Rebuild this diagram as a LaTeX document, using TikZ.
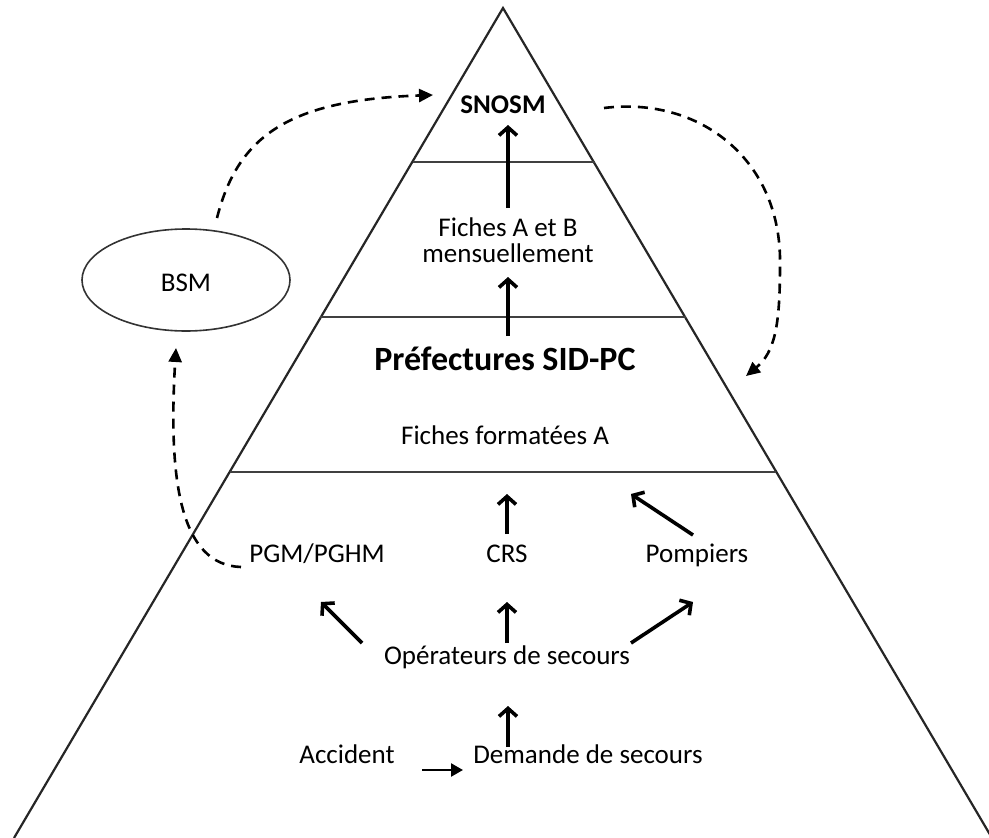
\documentclass[tikz,border=0pt]{standalone}
\usepackage{fontspec}
\setmainfont{Carlito}
\usetikzlibrary{arrows.meta}
\begin{document}
\begin{tikzpicture}[x=1pt,y=-1pt,
  txt/.style={inner sep=0pt, anchor=base, font=\fontsize{27}{32}\selectfont},
  btxt/.style={inner sep=0pt, anchor=base, font=\fontsize{27}{32}\selectfont\bfseries},
  bigtxt/.style={inner sep=0pt, anchor=base, font=\fontsize{34}{38}\selectfont\bfseries},
  edge/.style={line width=2.2pt, black!85},
  sep/.style={line width=2.2pt, black!75},
  solidarr/.style={line width=3.6pt, -{Straight Barb[length=8pt,width=18pt,line width=3.6pt]}},
  flatarr/.style={line width=2.4pt, -{Triangle[length=12pt,width=13pt]}},
  dasharr/.style={line width=2.6pt, dash pattern=on 10pt off 7pt, -{Triangle[length=14pt,width=13pt]}}
]
\useasboundingbox (0,0) rectangle (989,838);
% pyramid
\coordinate (apex) at (503,8);
\coordinate (bl) at (14,838);
\coordinate (br) at (992,838);
\draw[edge] (bl) -- (apex) -- (br);
\draw[sep] (413,162) -- (595,162);
\draw[sep] (320,317) -- (686,317);
\draw[sep] (230,472) -- (776,472);
% texts
\node[btxt] (snosm) at (503,113) {SNOSM};
\node[txt] (fab) at (508,236) {Fiches A et B};
\node[txt] (mens) at (508,262) {mensuellement};
\node[bigtxt] (pref) at (505,370) {Préfectures SID-PC};
\node[txt] (ffa) at (505,444) {Fiches formatées A};
\node[txt] (pgm) at (317,562) {PGM/PGHM};
\node[txt] (crs) at (507,562) {CRS};
\node[txt] (pomp) at (697,562) {Pompiers};
\node[txt] (ops) at (507,664) {Opérateurs de secours};
\node[txt] (acc) at (347,763) {Accident};
\node[txt] (dem) at (588,763) {Demande de secours};
\draw[line width=1.6pt, black!80] (186,280) ellipse (104pt and 51pt);
\node[txt] (bsm) at (186,291) {BSM};
% solid arrows
\coordinate (a1s) at (508,208); \coordinate (a1e) at (508,125);
\draw[solidarr] (a1s) -- (a1e);
\coordinate (a2s) at (508,336); \coordinate (a2e) at (508,277);
\draw[solidarr] (a2s) -- (a2e);
\coordinate (a3s) at (507,534); \coordinate (a3e) at (507,494);
\draw[solidarr] (a3s) -- (a3e);
\coordinate (a4s) at (693,535); \coordinate (a4e) at (631,494);
\draw[solidarr] (a4s) -- (a4e);
\coordinate (a5s) at (362,643); \coordinate (a5e) at (321,602);
\draw[solidarr] (a5s) -- (a5e);
\coordinate (a6s) at (507,643); \coordinate (a6e) at (507,602);
\draw[solidarr] (a6s) -- (a6e);
\coordinate (a7s) at (631,643); \coordinate (a7e) at (693,602);
\draw[solidarr] (a7s) -- (a7e);
\coordinate (a8s) at (508,747); \coordinate (a8e) at (508,706);
\draw[solidarr] (a8s) -- (a8e);
\coordinate (a9s) at (422,770); \coordinate (a9e) at (463,770);
\draw[flatarr] (a9s) -- (a9e);
% dashed arrows
\coordinate (d1s) at (217,218); \coordinate (d1e) at (433,95);
\draw[dasharr] (d1s) .. controls (238,135) and (290,100) .. (d1e);
\coordinate (d2s) at (604,108); \coordinate (d2m) at (780,265); \coordinate (d2e) at (746,376);
\draw[dasharr] (d2s) .. controls (700,96) and (782,160) .. (d2m) .. controls (780,325) and (775,352) .. (d2e);
\coordinate (d3s) at (241,567); \coordinate (d3e) at (176,348);
\draw[dasharr] (d3s) .. controls (180,565) and (168,480) .. (d3e);
\end{tikzpicture}
\end{document}
